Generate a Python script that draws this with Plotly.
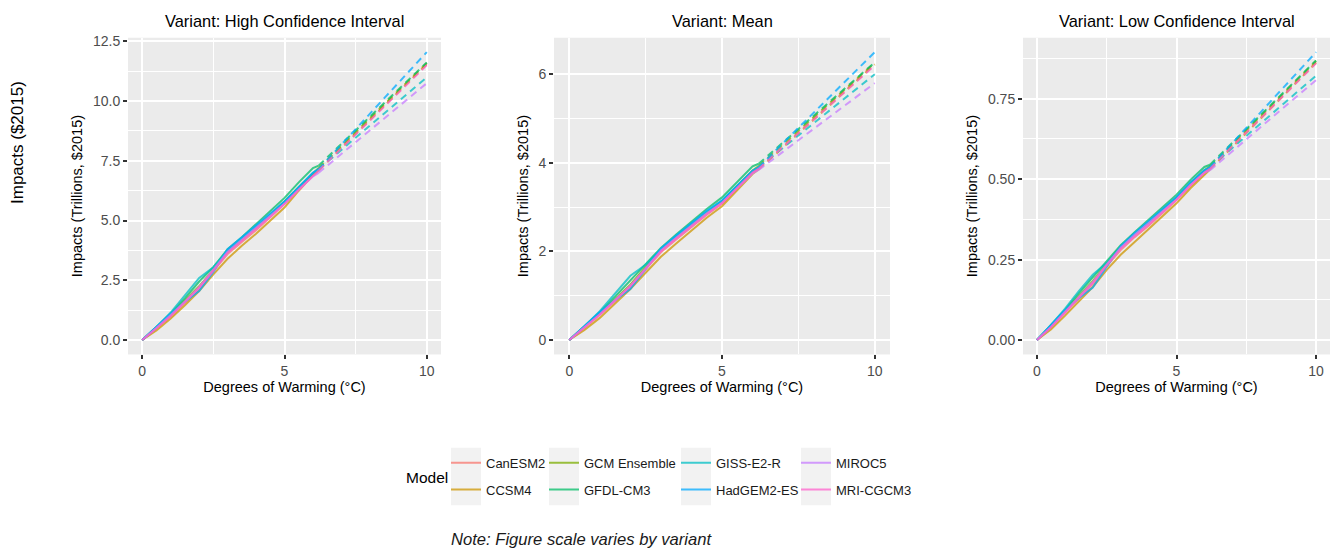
import plotly.graph_objects as go

W, H = 1338, 550

models = ["CanESM2", "CCSM4", "GCM Ensemble", "GFDL-CM3",
          "GISS-E2-R", "HadGEM2-ES", "MIROC5", "MRI-CGCM3"]
colors = ["rgba(248,118,109,0.75)", "rgba(205,150,0,0.75)", "rgba(124,174,0,0.75)",
          "rgba(0,190,103,0.75)", "rgba(0,191,196,0.75)", "rgba(0,169,255,0.75)",
          "rgba(199,124,255,0.75)", "rgba(255,97,204,0.75)"]

# degrees of warming for the modelled (solid) part and the extrapolated (dashed) end
warming = [0, 0.5, 1, 1.5, 2, 2.5, 3, 3.5, 4, 4.5, 5, 5.5, 6, 6.2]
warming_end = 10

# ---- Variant: High Confidence Interval (trillions $2015)
high_CanESM2 = [0, 0.50, 1.00, 1.55, 2.15, 2.90, 3.60, 4.10, 4.60, 5.15, 5.70, 6.35, 6.95, 7.15]
high_CCSM4 = [0, 0.40, 0.90, 1.45, 2.05, 2.75, 3.40, 3.95, 4.45, 5.00, 5.55, 6.25, 6.90, 7.10]
high_GCMens = [0, 0.50, 1.05, 1.65, 2.25, 2.95, 3.70, 4.20, 4.70, 5.25, 5.80, 6.40, 7.00, 7.20]
high_GFDL = [0, 0.55, 1.10, 1.75, 2.45, 3.05, 3.80, 4.30, 4.85, 5.40, 5.95, 6.60, 7.20, 7.30]
high_GISS = [0, 0.55, 1.15, 1.90, 2.60, 3.05, 3.75, 4.25, 4.75, 5.25, 5.80, 6.40, 7.00, 7.15]
high_HadGEM = [0, 0.55, 1.10, 1.60, 2.05, 2.85, 3.80, 4.30, 4.80, 5.30, 5.80, 6.40, 7.00, 7.15]
high_MIROC5 = [0, 0.50, 1.05, 1.60, 2.20, 2.95, 3.70, 4.20, 4.70, 5.20, 5.70, 6.30, 6.85, 7.00]
high_MRI = [0, 0.50, 1.00, 1.60, 2.20, 2.90, 3.65, 4.15, 4.65, 5.15, 5.70, 6.30, 6.90, 7.10]
high_at10 = [11.55, 11.55, 11.60, 11.62, 11.00, 12.05, 10.75, 11.50]

# ---- Variant: Mean
mean_CanESM2 = [0, 0.28, 0.57, 0.88, 1.20, 1.60, 1.98, 2.27, 2.55, 2.83, 3.08, 3.42, 3.78, 3.88]
mean_CCSM4 = [0, 0.23, 0.50, 0.82, 1.15, 1.52, 1.88, 2.18, 2.47, 2.76, 3.02, 3.38, 3.75, 3.85]
mean_GCMens = [0, 0.29, 0.60, 0.92, 1.25, 1.65, 2.03, 2.32, 2.60, 2.88, 3.13, 3.48, 3.83, 3.93]
mean_GFDL = [0, 0.31, 0.63, 0.98, 1.35, 1.70, 2.08, 2.38, 2.68, 2.96, 3.22, 3.58, 3.92, 3.98]
mean_GISS = [0, 0.31, 0.65, 1.05, 1.45, 1.70, 2.05, 2.35, 2.63, 2.90, 3.15, 3.48, 3.82, 3.90]
mean_HadGEM = [0, 0.31, 0.63, 0.90, 1.15, 1.60, 2.07, 2.36, 2.65, 2.92, 3.15, 3.48, 3.82, 3.90]
mean_MIROC5 = [0, 0.28, 0.58, 0.90, 1.22, 1.62, 2.02, 2.31, 2.59, 2.86, 3.10, 3.43, 3.76, 3.84]
mean_MRI = [0, 0.28, 0.57, 0.90, 1.22, 1.60, 2.00, 2.29, 2.57, 2.84, 3.09, 3.43, 3.78, 3.87]
mean_at10 = [6.24, 6.22, 6.26, 6.27, 6.00, 6.50, 5.80, 6.20]

# ---- Variant: Low Confidence Interval
low_CanESM2 = [0, 0.040, 0.085, 0.130, 0.175, 0.230, 0.280, 0.320, 0.355, 0.395, 0.435, 0.480, 0.520, 0.535]
low_CCSM4 = [0, 0.033, 0.075, 0.120, 0.165, 0.218, 0.265, 0.305, 0.345, 0.385, 0.425, 0.472, 0.515, 0.530]
low_GCMens = [0, 0.042, 0.090, 0.137, 0.183, 0.238, 0.290, 0.330, 0.365, 0.405, 0.443, 0.488, 0.528, 0.540]
low_GFDL = [0, 0.045, 0.093, 0.145, 0.195, 0.243, 0.295, 0.335, 0.373, 0.413, 0.452, 0.498, 0.538, 0.545]
low_GISS = [0, 0.046, 0.097, 0.152, 0.203, 0.240, 0.288, 0.330, 0.367, 0.405, 0.443, 0.488, 0.527, 0.537]
low_HadGEM = [0, 0.045, 0.093, 0.130, 0.163, 0.228, 0.292, 0.333, 0.370, 0.408, 0.445, 0.490, 0.528, 0.537]
low_MIROC5 = [0, 0.041, 0.087, 0.133, 0.180, 0.235, 0.287, 0.327, 0.362, 0.400, 0.437, 0.482, 0.520, 0.528]
low_MRI = [0, 0.040, 0.085, 0.132, 0.178, 0.232, 0.284, 0.323, 0.358, 0.397, 0.436, 0.481, 0.521, 0.533]
low_at10 = [0.864, 0.862, 0.868, 0.869, 0.822, 0.895, 0.808, 0.860]

variant_titles = ["Variant: High Confidence Interval", "Variant: Mean", "Variant: Low Confidence Interval"]
x_ticks = [0, 5, 10]
x_minor = [2.5, 7.5]
y_ticks = [[0, 2.5, 5, 7.5, 10, 12.5], [0, 2, 4, 6], [0, 0.25, 0.5, 0.75]]
y_ticktext = [["0.0", "2.5", "5.0", "7.5", "10.0", "12.5"], ["0", "2", "4", "6"],
              ["0.00", "0.25", "0.50", "0.75"]]
y_minor = [[1.25, 3.75, 6.25, 8.75, 11.25], [1, 3, 5], [0.125, 0.375, 0.625, 0.875]]

variants = [
    ([high_CanESM2, high_CCSM4, high_GCMens, high_GFDL, high_GISS, high_HadGEM, high_MIROC5, high_MRI], high_at10),
    ([mean_CanESM2, mean_CCSM4, mean_GCMens, mean_GFDL, mean_GISS, mean_HadGEM, mean_MIROC5, mean_MRI], mean_at10),
    ([low_CanESM2, low_CCSM4, low_GCMens, low_GFDL, low_GISS, low_HadGEM, low_MIROC5, low_MRI], low_at10),
]

# layout geometry (pixels)
x_dom_px = [(128, 441), (554, 890), (1023, 1330)]
y_top_px, y_bot_px = 34, 353
FONT = "Liberation Sans, Arial, sans-serif"

fig = go.Figure()
legend_names = ["legend", "legend2", "legend3", "legend4"]

for p, (series, ends) in enumerate(variants):
    xa = "x" if p == 0 else f"x{p+1}"
    ya = "y" if p == 0 else f"y{p+1}"
    for m, name in enumerate(models):
        fig.add_trace(go.Scatter(
            x=warming, y=series[m], mode="lines", name=name,
            line=dict(color=colors[m], width=2),
            xaxis=xa, yaxis=ya, legendgroup=name,
            legend=legend_names[m // 2], showlegend=(p == 0)))
        fig.add_trace(go.Scatter(
            x=[warming[-1], warming_end], y=[series[m][-1], ends[m]], mode="lines", name=name,
            line=dict(color=colors[m], width=2, dash="7px,5px"),
            xaxis=xa, yaxis=ya, legendgroup=name,
            legend=legend_names[m // 2], showlegend=False))

layout = dict(
    width=W, height=H, autosize=False,
    margin=dict(l=0, r=0, t=0, b=0),
    paper_bgcolor="white", plot_bgcolor="#EBEBEB",
    font=dict(family=FONT, color="#000000"),
    annotations=[], shapes=[],
)

for p in range(3):
    series, ends = variants[p]
    ymax = max(max(max(s) for s in series), max(ends))
    ymin = 0
    span = ymax - ymin
    xk = "xaxis" if p == 0 else f"xaxis{p+1}"
    yk = "yaxis" if p == 0 else f"yaxis{p+1}"
    ya = "y" if p == 0 else f"y{p+1}"
    xa = "x" if p == 0 else f"x{p+1}"
    x0, x1 = x_dom_px[p]
    layout[xk] = dict(
        domain=[x0 / W, x1 / W], anchor=ya, range=[-0.5, 10.5],
        tickvals=x_ticks, ticktext=[str(v) for v in x_ticks],
        ticks="outside", ticklen=4, tickwidth=1.5, tickcolor="#333333",
        tickfont=dict(size=14, color="#4D4D4D"),
        showgrid=True, gridcolor="white", gridwidth=2, zeroline=False, showline=False,
        minor=dict(tickvals=x_minor, showgrid=True, gridcolor="white", gridwidth=1, ticks=""),
        title=dict(text="Degrees of Warming (°C)", font=dict(size=14.5, color="#000000"), standoff=3),
        fixedrange=True,
    )
    layout[yk] = dict(
        domain=[1 - y_bot_px / H, 1 - y_top_px / H], anchor=xa,
        range=[ymin - 0.05 * span, ymax + 0.05 * span],
        tickvals=y_ticks[p], ticktext=y_ticktext[p],
        ticks="outside", ticklen=4, tickwidth=1.5, tickcolor="#333333",
        tickfont=dict(size=14, color="#4D4D4D"),
        showgrid=True, gridcolor="white", gridwidth=2, zeroline=False, showline=False,
        minor=dict(tickvals=y_minor[p], showgrid=True, gridcolor="white", gridwidth=1, ticks=""),
        title=dict(text="Impacts (Trillions, $2015)", font=dict(size=14.5, color="#000000"), standoff=6),
        fixedrange=True,
    )
    layout["annotations"].append(dict(
        text=variant_titles[p], xref="paper", yref="paper",
        x=(x0 + x1) / 2 / W, y=1 - 17 / H, xanchor="center", yanchor="middle",
        showarrow=False, font=dict(size=16.4, color="#000000")))

# overall label, legend title, note
layout["annotations"].append(dict(
    text="Impacts ($2015)", xref="paper", yref="paper", x=18 / W, y=1 - 140 / H,
    textangle=-90, xanchor="center", yanchor="middle", showarrow=False,
    font=dict(size=17, color="#000000")))
layout["annotations"].append(dict(
    text="Model", xref="paper", yref="paper", x=404 / W, y=1 - 477 / H,
    xanchor="left", yanchor="middle", showarrow=False,
    font=dict(size=15.5, color="#000000")))
layout["annotations"].append(dict(
    text="<i>Note: Figure scale varies by variant</i>", xref="paper", yref="paper",
    x=581 / W, y=1 - 539 / H, xanchor="center", yanchor="middle", showarrow=False,
    font=dict(size=16.6, color="#1A1A1A")))

# legends: four columns of two keys, like the reference guide
key_left_px = [451, 549, 681, 801]
for k in range(4):
    layout[legend_names[k]] = dict(
        x=(key_left_px[k] - 5) / W, y=1 - 447 / H, xanchor="left", yanchor="top",
        orientation="v", bgcolor="rgba(0,0,0,0)", borderwidth=0,
        font=dict(size=13, color="#1A1A1A"), traceorder="grouped", tracegroupgap=7,
        itemwidth=30)
    layout["shapes"].append(dict(
        type="rect", xref="paper", yref="paper", layer="below",
        x0=key_left_px[k] / W, x1=(key_left_px[k] + 30) / W,
        y0=1 - 505 / H, y1=1 - 447 / H, fillcolor="#F2F2F2", line=dict(width=0)))

fig.update_layout(**layout)
fig.write_html("out.html")
